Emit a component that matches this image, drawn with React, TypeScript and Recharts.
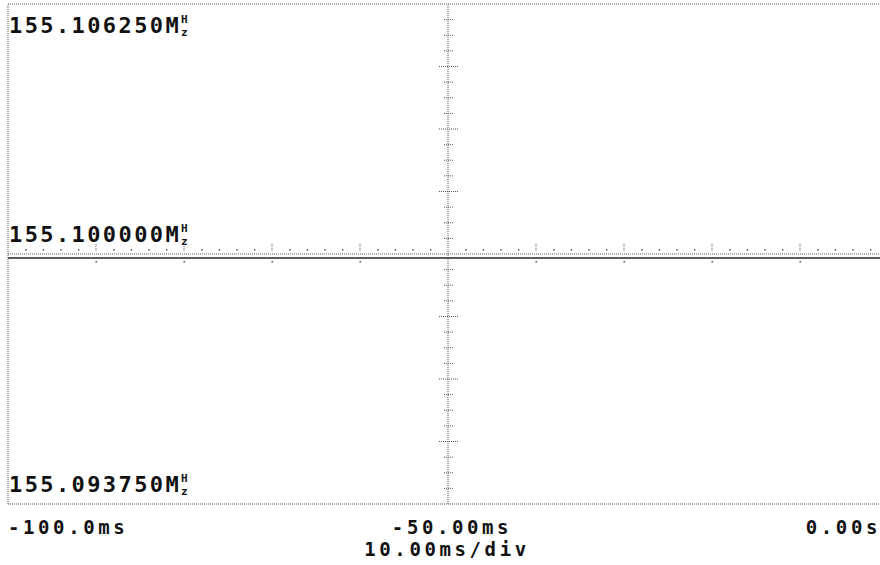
import React from 'react';
import { ComposedChart, Line, XAxis, YAxis, ReferenceLine, Scatter } from 'recharts';

// Time axis (ms)
const timeTicks = [-100, -50, 0];
const timeTickLabels = ['-100.0ms', '-50.00ms', '0.00s'];
const timeScaleLabel = '10.00ms/div';

// Frequency axis (MHz)
const freqTicks = [155.09375, 155.1, 155.10625];
const freqTickLabels = ['155.093750', '155.100000', '155.106250'];
const freqUnitMain = 'M';
const freqUnitTop = 'H';
const freqUnitBottom = 'z';

// Measured trace (flat, slightly below centre)
const traceTimes = [-100, -90, -80, -70, -60, -50, -40, -30, -20, -10, 0];
const traceFreqs = [155.0999, 155.0999, 155.0999, 155.0999, 155.0999, 155.0999, 155.0999, 155.0999, 155.0999, 155.0999, 155.0999];

// Graticule marks on the centre lines
const minorTimeMarks = [-98, -96, -94, -92, -88, -86, -84, -82, -78, -76, -74, -72, -68, -66, -64, -62, -58, -56, -54, -52,
  -48, -46, -44, -42, -38, -36, -34, -32, -28, -26, -24, -22, -18, -16, -14, -12, -8, -6, -4, -2];
const majorTimeMarks = [-90, -80, -70, -60, -40, -30, -20, -10];
const minorFreqMarks = [155.094140625, 155.09453125, 155.094921875, 155.095703125, 155.09609375, 155.096484375,
  155.097265625, 155.09765625, 155.098046875, 155.098828125, 155.09921875, 155.099609375,
  155.100390625, 155.10078125, 155.101171875, 155.101953125, 155.10234375, 155.102734375,
  155.103515625, 155.10390625, 155.104296875, 155.105078125, 155.10546875, 155.105859375];
const majorFreqMarks = [155.0953125, 155.096875, 155.0984375, 155.1015625, 155.103125, 155.1046875];

const centreTime = -50;
const centreFreq = 155.1;

const trace = traceTimes.map((t, i) => ({ t, f: traceFreqs[i] }));
const minorTimeData = minorTimeMarks.map((t) => ({ t, f: centreFreq }));
const majorTimeData = majorTimeMarks.map((t) => ({ t, f: centreFreq }));
const minorFreqData = minorFreqMarks.map((f) => ({ t: centreTime, f }));
const majorFreqData = majorFreqMarks.map((f) => ({ t: centreTime, f }));

const FONT = '"DejaVu Sans Mono", "Liberation Mono", monospace';
const GRID = '#555';
const DOT = '1 1';

const YTick = (props: any) => {
  const { x, y, payload, index } = props;
  const i = freqTicks.indexOf(payload.value);
  const label = freqTickLabels[i >= 0 ? i : index];
  const isTop = payload.value === freqTicks[freqTicks.length - 1];
  const base = y + (isTop ? 29 : -12);
  const startX = x + 1;
  const adv = 22 * 0.602 + 2.4;
  const ux = startX + adv * (label.length + 1);
  return (
    <g>
      <text x={startX} y={base} fontFamily={FONT} fontWeight="bold" fontSize={22} letterSpacing={2.4} fill="#111">
        {label + freqUnitMain}
      </text>
      <text x={ux} y={base - 10} fontFamily={FONT} fontWeight="bold" fontSize={11} fill="#111">{freqUnitTop}</text>
      <text x={ux} y={base + 3} fontFamily={FONT} fontWeight="bold" fontSize={11} fill="#111">{freqUnitBottom}</text>
    </g>
  );
};

const XTick = (props: any) => {
  const { x, y, payload } = props;
  const i = timeTicks.indexOf(payload.value);
  const label = timeTickLabels[i];
  let anchor: 'start' | 'middle' | 'end' = 'middle';
  let dx = 4;
  if (i === 0) { anchor = 'start'; dx = 0; }
  if (i === timeTicks.length - 1) { anchor = 'end'; dx = -7; }
  return (
    <g>
      <text x={x + dx} y={y + 30} textAnchor={anchor} fontFamily={FONT} fontWeight="bold" fontSize={19} letterSpacing={3.6} fill="#111">
        {label}
      </text>
      {i === 1 && (
        <text x={x - 1} y={y + 52} textAnchor="middle" fontFamily={FONT} fontWeight="bold" fontSize={19} letterSpacing={3.6} fill="#111">
          {timeScaleLabel}
        </text>
      )}
    </g>
  );
};

const MinorTimeShape = (p: any) => (
  <rect x={p.cx - 0.5} y={p.cy - 5} width={1.5} height={1.5} fill={GRID} />
);
const MajorTimeShape = (p: any) => (
  <g>
    <line x1={p.cx} x2={p.cx} y1={p.cy - 10} y2={p.cy - 3} stroke={GRID} strokeDasharray={DOT} />
    <rect x={p.cx - 0.5} y={p.cy + 7} width={1.5} height={1.5} fill={GRID} />
  </g>
);
const MinorFreqShape = (p: any) => (
  <line x1={p.cx - 4} x2={p.cx + 5} y1={p.cy} y2={p.cy} stroke={GRID} strokeDasharray={DOT} />
);
const MajorFreqShape = (p: any) => (
  <line x1={p.cx - 9} x2={p.cx + 10} y1={p.cy} y2={p.cy} stroke={GRID} strokeDasharray={DOT} />
);

export default function App() {
  return (
    <div style={{ position: 'absolute', left: 0, top: 0, width: 880, height: 565, overflow: 'hidden', background: '#fff' }}>
      <ComposedChart width={888} height={565} margin={{ top: 4, right: 0, bottom: 0, left: 0 }}>
        <XAxis
          type="number"
          dataKey="t"
          domain={[-100, 0]}
          ticks={timeTicks}
          interval={0}
          height={61}
          axisLine={false}
          tickLine={false}
          tickSize={0}
          tickMargin={0}
          tick={<XTick />}
          allowDataOverflow
        />
        <YAxis
          type="number"
          dataKey="f"
          domain={[155.09375, 155.10625]}
          ticks={freqTicks}
          interval={0}
          width={8}
          axisLine={false}
          tickLine={false}
          tickSize={0}
          tickMargin={0}
          tick={<YTick />}
          allowDataOverflow
        />
        <ReferenceLine y={155.10625} stroke={GRID} strokeDasharray={DOT} />
        <ReferenceLine y={155.09375} stroke={GRID} strokeDasharray={DOT} />
        <ReferenceLine x={-100} stroke={GRID} strokeDasharray={DOT} />
        <ReferenceLine x={0} stroke={GRID} strokeDasharray={DOT} />
        <ReferenceLine x={centreTime} stroke={GRID} strokeDasharray={DOT} />
        <ReferenceLine y={centreFreq} stroke={GRID} strokeDasharray={DOT} />
        <Scatter data={minorTimeData} shape={<MinorTimeShape />} isAnimationActive={false} />
        <Scatter data={majorTimeData} shape={<MajorTimeShape />} isAnimationActive={false} />
        <Scatter data={minorFreqData} shape={<MinorFreqShape />} isAnimationActive={false} />
        <Scatter data={majorFreqData} shape={<MajorFreqShape />} isAnimationActive={false} />
        <Line data={trace} dataKey="f" type="linear" stroke="#5c5c5c" strokeWidth={2} dot={false} activeDot={false} isAnimationActive={false} />
      </ComposedChart>
    </div>
  );
}
